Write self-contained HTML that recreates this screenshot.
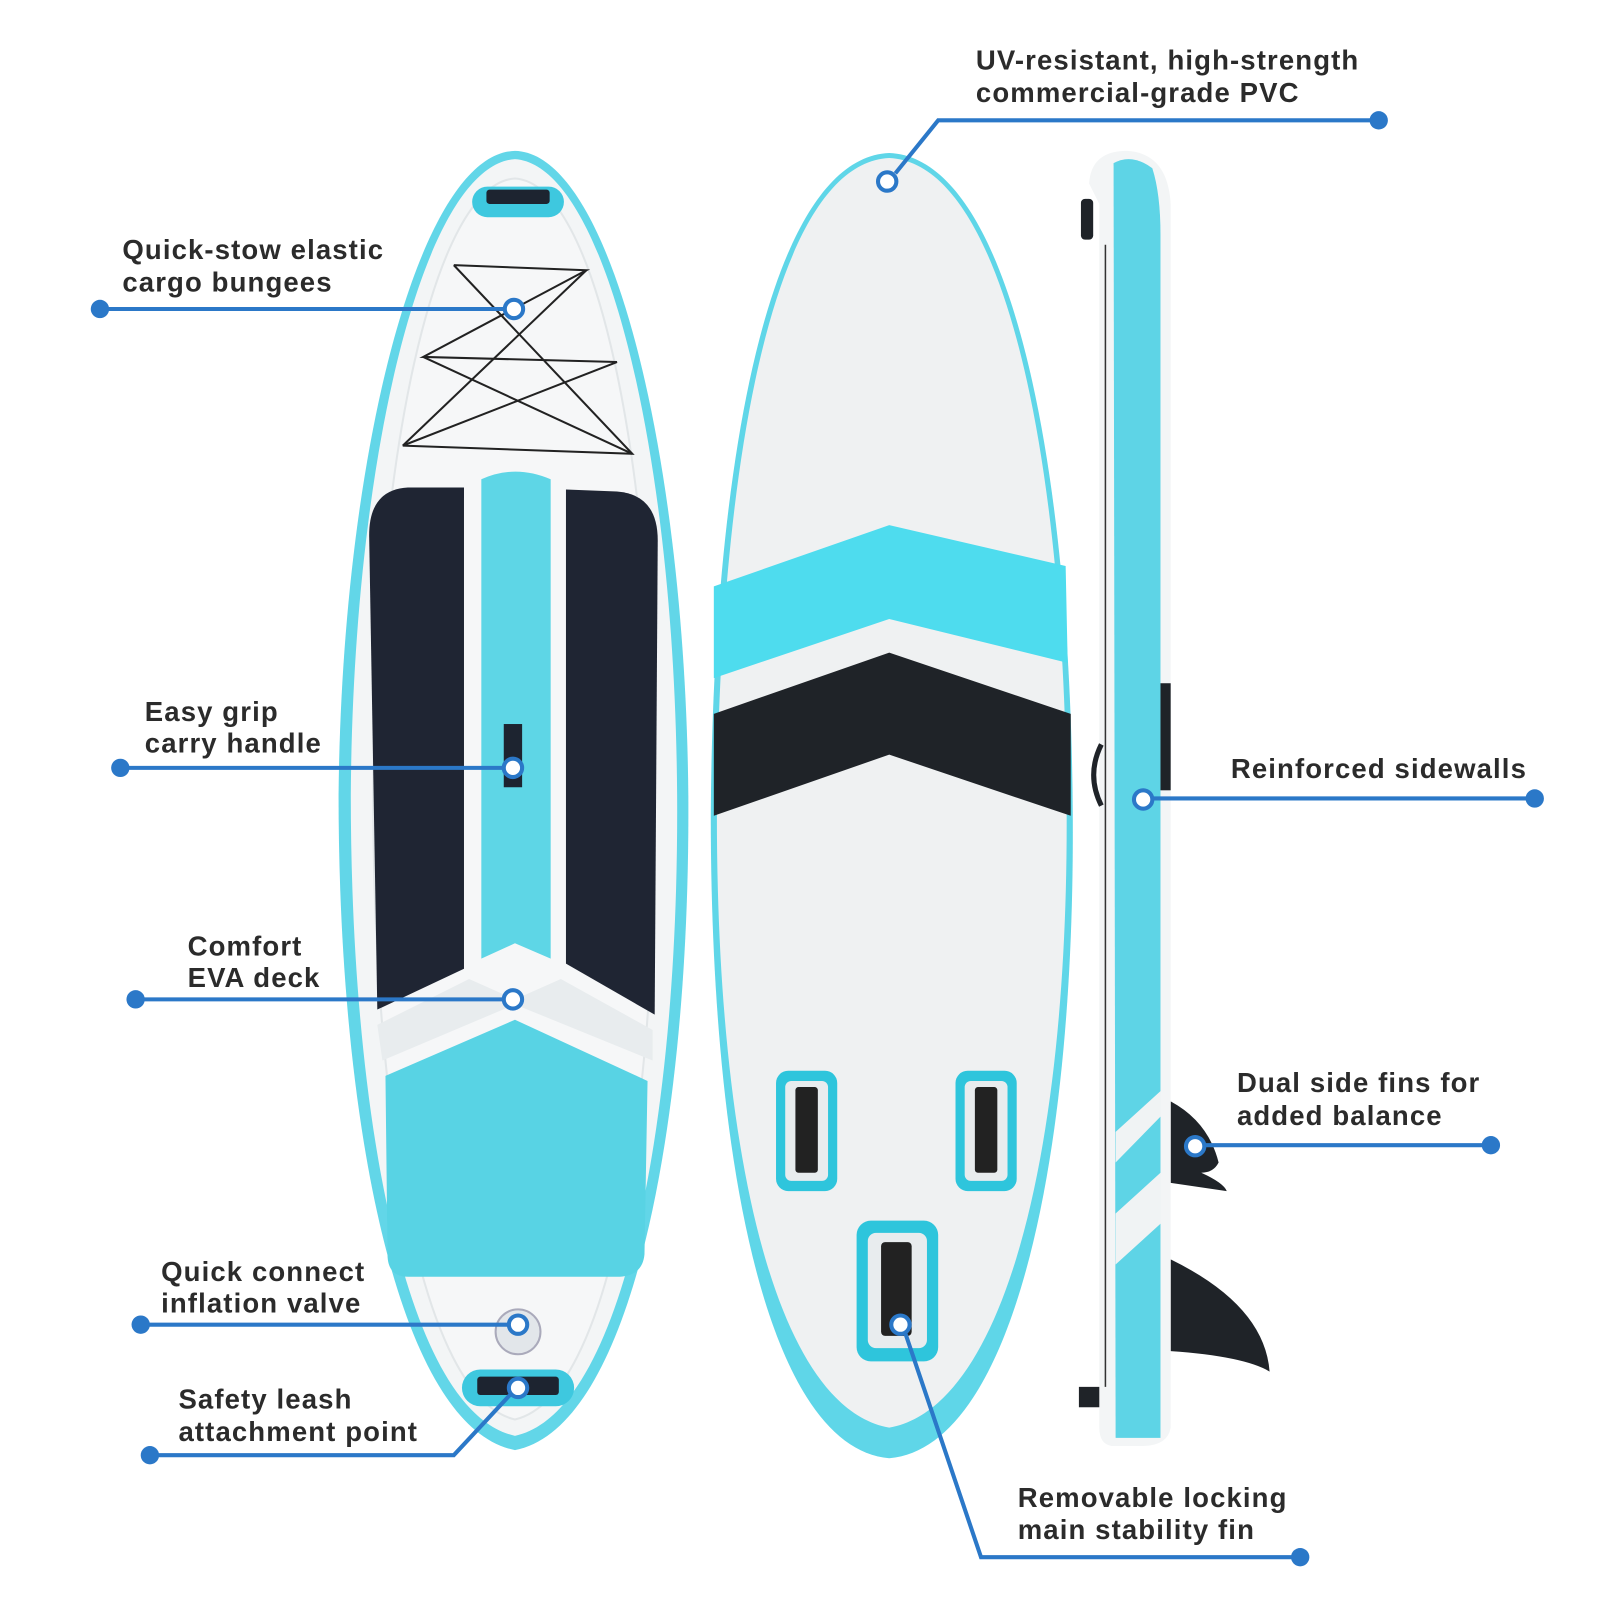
<!DOCTYPE html>
<html><head><meta charset="utf-8"><style>
html,body{margin:0;padding:0;background:#fff;width:1600px;height:1600px;overflow:hidden}
svg{display:block}
text{font-family:"Liberation Sans",sans-serif;font-weight:bold;font-size:27px;letter-spacing:1.1px;fill:#2b2b2b}
</style></head><body>
<svg width="1600" height="1600" viewBox="0 0 1569 1569" xmlns="http://www.w3.org/2000/svg">
<!-- LEFT BOARD -->
<path d="M505,148 C600,150 672,450 675,780 C677,1100 620,1400 505,1422 C390,1400 332,1100 332,780 C335,450 410,150 505,148 Z" fill="#62d6e8"/>
<path d="M505,156 C595,162 662,450 664,780 C666,1095 612,1385 505,1408 C398,1385 344,1095 344,780 C346,450 415,162 505,156 Z" fill="#f3f5f6"/>
<path d="M505,175 C585,180 640,450 642,780 C644,1090 598,1370 505,1392 C412,1370 366,1090 366,780 C368,450 425,180 505,175 Z" fill="#f6f7f8" stroke="#e2e6e8" stroke-width="2"/>
<rect x="463" y="183" width="90" height="30" rx="15" fill="#3ec8df"/>
<rect x="477" y="186" width="62" height="14" rx="3" fill="#1d2430"/>
<g stroke="#222" stroke-width="2" fill="none">
<path d="M445,260 L575,265 L415,350 L605,355 L395,437 L620,445 L445,260"/>
<path d="M575,265 L395,437"/>
<path d="M415,350 L620,445"/>
</g>
<path d="M362,525 Q362,480 400,478 L455,478 L455,950 L370,990 Z" fill="#1f2533"/>
<path d="M555,480 L605,482 Q645,485 645,530 L642,995 L555,945 Z" fill="#1f2533"/>
<path d="M472,470 Q505,455 540,470 L540,940 L505,925 L472,940 Z" fill="#5ed6e6"/>
<path d="M370,1005 L460,960 L505,980 L550,960 L640,1010 L640,1040 L505,985 L375,1040 Z" fill="#e8ecee"/>
<path d="M378,1055 L505,1000 L635,1060 L632,1230 Q630,1252 605,1252 L400,1252 Q380,1252 380,1230 Z" fill="#58d3e4"/>
<rect x="494" y="710" width="18" height="62" fill="#1d2430"/>
<circle cx="508" cy="1306" r="22" fill="#e2e6ea" stroke="#aab" stroke-width="2"/>
<rect x="453" y="1343" width="110" height="36" rx="18" fill="#3ec8df"/>
<rect x="468" y="1350" width="80" height="18" rx="3" fill="#1d2430"/>

<!-- MIDDLE BOARD -->
<path d="M872,150 C990,155 1050,450 1052,800 C1054,1150 990,1420 872,1430 C755,1420 697,1150 697,800 C699,450 755,155 872,150Z" fill="#5fd6e8"/>
<path d="M872,155 C985,160 1045,450 1046,800 C1047,1130 985,1380 872,1400 C760,1380 703,1130 703,800 C705,450 760,160 872,155Z" fill="#eff1f2"/>
<path d="M700,575 L872,515 L1045,555 L1047,650 L872,607 L700,665 Z" fill="#4edcee"/>
<path d="M700,700 L872,640 L1050,700 L1050,800 L872,740 L700,800 Z" fill="#1f2328"/>
<rect x="761" y="1050" width="60" height="118" rx="12" fill="#2ec5dc"/>
<rect x="770" y="1060" width="42" height="98" rx="6" fill="#e8ecee"/>
<rect x="780" y="1066" width="22" height="84" rx="3" fill="#222"/>
<rect x="937" y="1050" width="60" height="118" rx="12" fill="#2ec5dc"/>
<rect x="946" y="1060" width="42" height="98" rx="6" fill="#e8ecee"/>
<rect x="956" y="1066" width="22" height="84" rx="3" fill="#222"/>
<rect x="840" y="1197" width="80" height="138" rx="14" fill="#2ec5dc"/>
<rect x="851" y="1209" width="58" height="113" rx="8" fill="#e8ecee"/>
<rect x="864" y="1218" width="30" height="92" rx="4" fill="#222"/>

<!-- SIDE BOARD -->
<path d="M1148,1080 Q1185,1100 1195,1140 Q1190,1150 1178,1150 Q1200,1160 1203,1168 L1148,1160 Z" fill="#1f2328"/>
<path d="M1148,1235 Q1240,1280 1245,1345 Q1220,1330 1148,1325 Z" fill="#1f2328"/>
<rect x="1058" y="1360" width="22" height="20" fill="#1f2328"/>
<rect x="1060" y="195" width="12" height="40" rx="4" fill="#1f2328"/>
<path d="M1068,180 Q1070,148 1105,148 Q1145,150 1148,200 L1148,1400 Q1145,1418 1120,1418 L1090,1418 Q1078,1416 1078,1400 L1078,200 Z" fill="#f3f5f6"/>
<path d="M1092,160 Q1110,150 1130,165 Q1138,190 1138,230 L1138,1410 L1094,1410 Z" fill="#5ed4e6"/>
<path d="M1094,1110 L1138,1070 L1138,1095 L1094,1140Z M1094,1190 L1138,1150 L1138,1200 L1094,1240Z" fill="#f0f3f4"/>
<rect x="1138" y="670" width="10" height="105" fill="#1f2328"/>
<path d="M1080,730 Q1065,760 1080,790" stroke="#1f2328" stroke-width="5" fill="none"/>
<line x1="1084" y1="240" x2="1084" y2="1360" stroke="#333" stroke-width="1.5"/>

<!-- CALLOUTS -->
<g stroke="#2b78c8" stroke-width="4" fill="none">
<line x1="98" y1="303" x2="494" y2="303"/>
<line x1="118" y1="753" x2="494" y2="753"/>
<line x1="133" y1="980" x2="494" y2="980"/>
<line x1="138" y1="1299" x2="498" y2="1299"/>
<polyline points="147,1427 445,1427 500,1368"/>
<polyline points="878,170 920,118 1352,118"/>
<line x1="1130" y1="783" x2="1505" y2="783"/>
<line x1="1182" y1="1123" x2="1462" y2="1123"/>
<polyline points="888,1308 962,1527 1275,1527"/>
</g>
<g fill="#2b78c8">
<circle cx="98" cy="303" r="9"/><circle cx="118" cy="753" r="9"/><circle cx="133" cy="980" r="9"/>
<circle cx="138" cy="1299" r="9"/><circle cx="147" cy="1427" r="9"/><circle cx="1352" cy="118" r="9"/>
<circle cx="1505" cy="783" r="9"/><circle cx="1462" cy="1123" r="9"/><circle cx="1275" cy="1527" r="9"/>
</g>
<g fill="#fff" stroke="#2b78c8" stroke-width="4">
<circle cx="504" cy="303" r="9"/><circle cx="503" cy="753" r="9"/><circle cx="503" cy="980" r="9"/>
<circle cx="508" cy="1299" r="9"/><circle cx="508" cy="1361" r="9"/><circle cx="870" cy="178" r="9"/>
<circle cx="1121" cy="784" r="9"/><circle cx="1172" cy="1124" r="9"/><circle cx="883" cy="1299" r="9"/>
</g>
<text x="120" y="254">Quick-stow elastic</text><text x="120" y="286">cargo bungees</text>
<text x="142" y="707">Easy grip</text><text x="142" y="738">carry handle</text>
<text x="184" y="937">Comfort</text><text x="184" y="968">EVA deck</text>
<text x="158" y="1256">Quick connect</text><text x="158" y="1287">inflation valve</text>
<text x="175" y="1381">Safety leash</text><text x="175" y="1413">attachment point</text>
<text x="957" y="68">UV-resistant, high-strength</text><text x="957" y="100">commercial-grade PVC</text>
<text x="1207" y="763">Reinforced sidewalls</text>
<text x="1213" y="1071">Dual side fins for</text><text x="1213" y="1103">added balance</text>
<text x="998" y="1478">Removable locking</text><text x="998" y="1509">main stability fin</text>
</svg>
</body></html>
